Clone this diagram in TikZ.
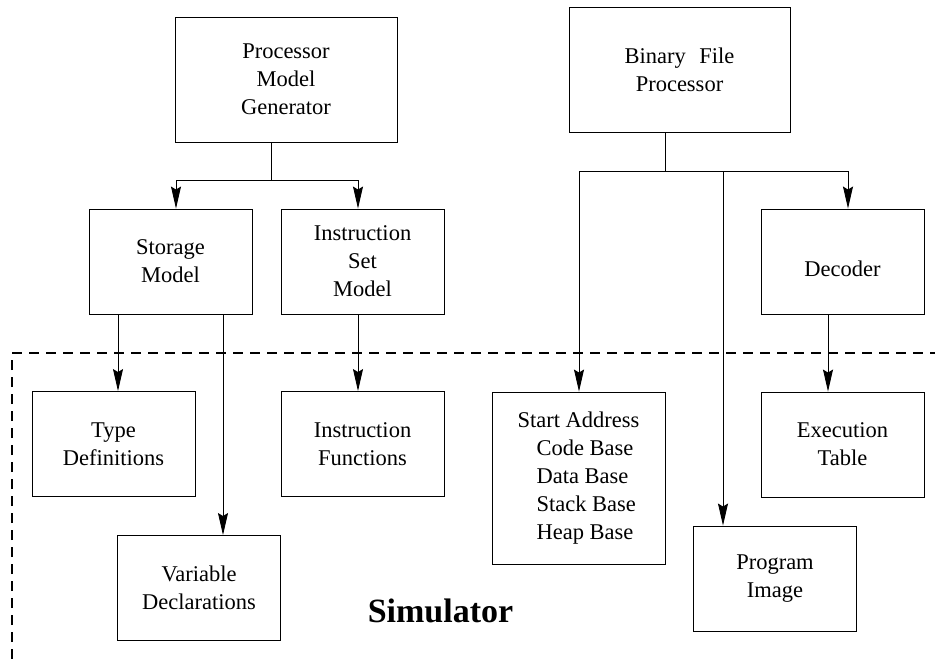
\documentclass[tikz,border=0pt]{standalone}
\usepackage{fontspec}
\setmainfont{Liberation Serif}
\usepackage{tikz}
\usetikzlibrary{arrows.meta,positioning}
\tikzset{
  blk/.style={draw,line width=0.9pt,inner sep=0pt,align=center,minimum width=163pt,minimum height=105pt},
  wire/.style={line width=0.9pt},
  arr/.style={line width=0.9pt,-{Stealth[length=22pt,width=10pt,inset=3pt]}},
  simedge/.style={line width=1.3pt,dash pattern=on 10pt off 7pt}
}

\begin{document}
\begin{tikzpicture}[x=1pt,y=-1pt,font=\fontsize{22.5}{28}\selectfont]
\useasboundingbox (0,0) rectangle (935,659);
\node[blk,minimum width=222pt,minimum height=125pt] (pmg) at (286,79.5) {Processor\\Model\\Generator};
\node[blk,minimum width=221pt,minimum height=125pt] (bfp) at (679.5,69.5) {Binary\hspace{0.6em}File\\Processor};
\node[blk] (stor) at (170.5,261.5) {Storage\\Model};
\node[blk] (isa) at (362.5,261.5) {Instruction\\Set\\Model};
\node[blk,text height=29pt,text depth=0pt] (dec) at (842.5,261.5) {Decoder};
\node[blk] (tdef) at (113.5,444) {Type\\Definitions};
\node[blk] (ifn) at (362.5,444) {Instruction\\Functions};
\node[blk] (exe) at (842.5,444.5) {Execution\\Table};
\node[blk,align=left,minimum width=173pt,minimum height=172pt] (start) at (578.5,478)
  {Start Address\\\hspace*{19pt}Code Base\\\hspace*{19pt}Data Base\\\hspace*{19pt}Stack Base\\\hspace*{19pt}Heap Base};
\node[blk] (img) at (775,578.5) {Program\\Image};
\node[blk] (var) at (199,588) {Variable\\Declarations};
\node[font=\fontsize{34}{40}\selectfont\bfseries,anchor=base] (sim) at (440.5,622) {Simulator};
\draw[simedge] (12,659) |- (935,353);
\coordinate (pj) at (271,180);
\coordinate (pl) at (176,180);
\coordinate (pr) at (358,180);
\draw[wire] (pmg.south -| pj) -- (pj);
\draw[wire] (pl) -- (pr);
\draw[arr] (pl) -- (pl |- stor.north);
\draw[arr] (pr) -- (pr |- isa.north);
\coordinate (bj) at (665,171);
\coordinate (bl) at (579,171);
\coordinate (bm) at (723,171);
\coordinate (br) at (848,171);
\draw[wire] (bfp.south -| bj) -- (bj);
\draw[wire] (bl) -- (br);
\draw[arr] (bl) -- (bl |- start.north);
\draw[arr] (bm) -- (bm |- img.north);
\draw[arr] (br) -- (br |- dec.north);
\coordinate (s1) at (118,0);
\coordinate (s2) at (223,0);
\coordinate (dx) at (828,0);
\draw[arr] (stor.south -| s1) -- (tdef.north -| s1);
\draw[arr] (stor.south -| s2) -- (var.north -| s2);
\draw[arr] (isa.south -| pr) -- (ifn.north -| pr);
\draw[arr] (dec.south -| dx) -- (exe.north -| dx);
\end{tikzpicture}
\end{document}
